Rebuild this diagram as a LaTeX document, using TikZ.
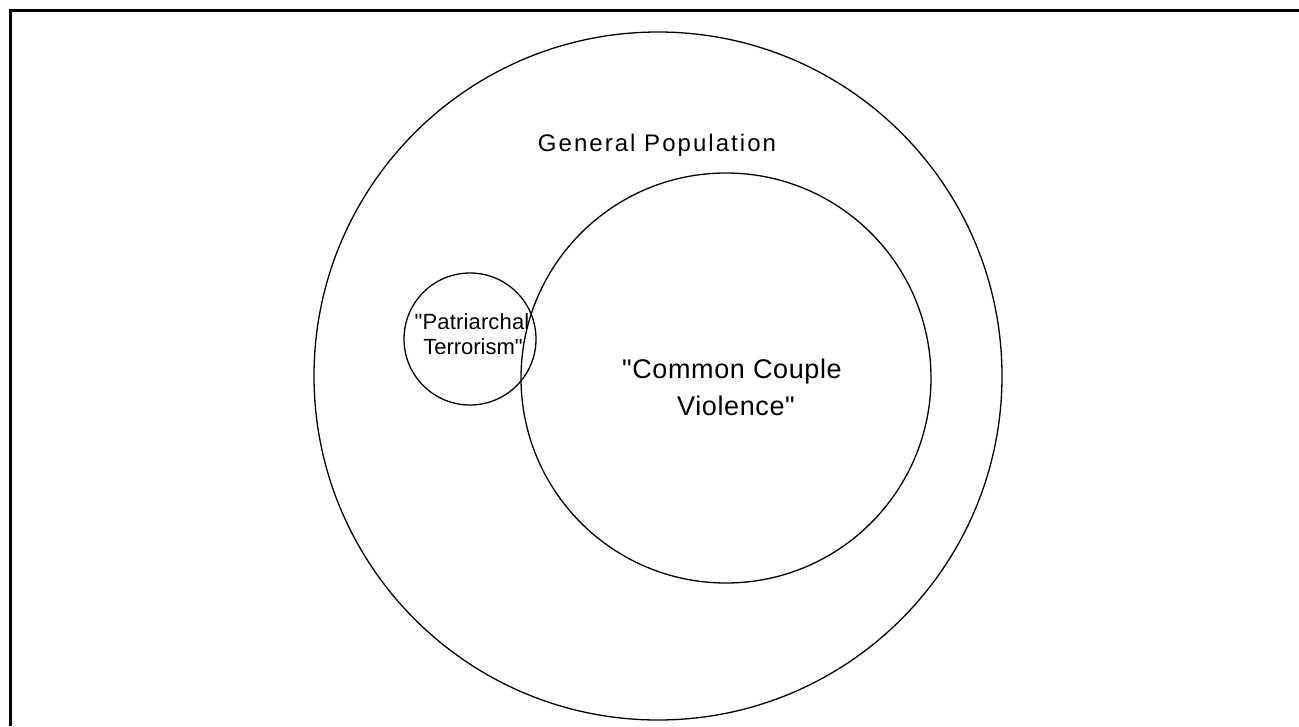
\documentclass[tikz,border=0pt]{standalone}
\usepackage{fontspec}
\setmainfont{Liberation Sans}[Ligatures=TeXOff]
\begin{document}
\begin{tikzpicture}[x=1pt,y=-1pt,
  ring/.style={circle,draw=black,line width=1.3pt,inner sep=0pt},
  lbl/.style={inner sep=0pt,anchor=base,text=black}]
\useasboundingbox (0,0) rectangle (1299,726);
\fill[white] (0,0) rectangle (1299,726);
\draw[line width=3pt] (10,726) -- (10,10) -- (1299,10);
\node[ring,minimum size=688pt] (pop) at (658,376) {};
\node[ring,minimum size=410pt] (ccv) at (726,378) {};
\node[ring,minimum size=132pt] (pt) at (470,339) {};
\node[lbl,font=\fontsize{24}{28}\selectfont\addfontfeature{LetterSpace=8.5}] (gp) at (657,151) {General Population};
\node[lbl,font=\fontsize{27}{32}\selectfont\addfontfeature{LetterSpace=2.3}] (cc1) at (732,378) {"Common Couple};
\node[lbl,font=\fontsize{27}{32}\selectfont\addfontfeature{LetterSpace=2.3}] (cc2) at (736,415) {Violence"};
\node[lbl,font=\fontsize{22}{26}\selectfont\addfontfeature{LetterSpace=0.7}] (pt1) at (472,329) {"Patriarchal};
\node[lbl,font=\fontsize{22}{26}\selectfont] (pt2) at (473,354) {Terrorism"};
\end{tikzpicture}
\end{document}
